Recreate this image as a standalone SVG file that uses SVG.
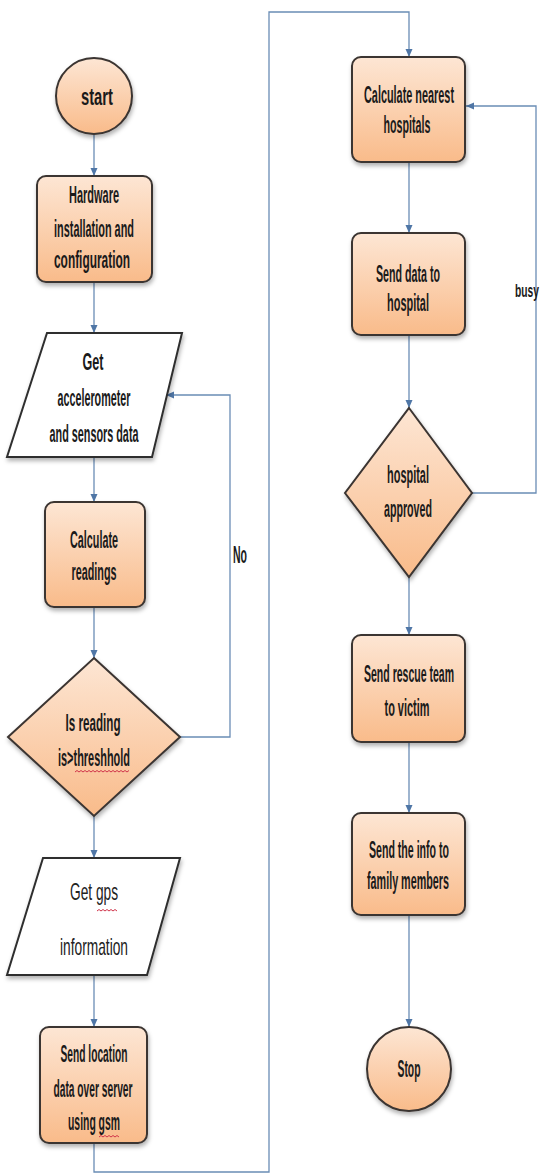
<svg xmlns="http://www.w3.org/2000/svg" width="544" height="1175" viewBox="0 0 544 1175">
<style>
.n{fill:url(#peach);stroke:#3b3431;stroke-width:2;filter:url(#sh)}
.io{fill:#ffffff;stroke:#2f2f2f;stroke-width:2;filter:url(#sh)}
.t{font-family:"Liberation Sans Narrow","Liberation Sans",Arial,sans-serif;font-weight:bold;font-size:24px;fill:#1a1a1a;text-anchor:middle}
.r{font-family:"Liberation Sans Narrow","Liberation Sans",Arial,sans-serif;font-weight:normal;font-size:24px;fill:#222;text-anchor:middle}
.c{fill:none;stroke:#6a8db5;stroke-width:1.3}
.sq{fill:none;stroke:#d0334a;stroke-width:1}
</style>
<defs>
<linearGradient id="peach" x1="0" y1="0" x2="0" y2="1">
<stop offset="0" stop-color="#fde6d4"/>
<stop offset="1" stop-color="#f9bb8a"/>
</linearGradient>
<filter id="sh" x="-20%" y="-20%" width="140%" height="140%">
<feDropShadow dx="1" dy="3" stdDeviation="2" flood-color="#000" flood-opacity="0.3"/>
</filter>
<marker id="ar" viewBox="0 0 8 10" refX="8" refY="5" markerWidth="8" markerHeight="10" markerUnits="userSpaceOnUse" orient="auto">
<path d="M0,1.5 L8,5 L0,8.5 Z" fill="#4f76a6"/>
</marker>
</defs>
<rect width="544" height="1175" fill="#ffffff"/>
<g id="connectors">
<line class="c" x1="94" y1="135" x2="94" y2="176" marker-end="url(#ar)"/>
<line class="c" x1="94" y1="282" x2="94" y2="333" marker-end="url(#ar)"/>
<line class="c" x1="94" y1="457" x2="94" y2="502" marker-end="url(#ar)"/>
<line class="c" x1="94" y1="607" x2="94" y2="658" marker-end="url(#ar)"/>
<polyline class="c" points="180,737 230,737 230,395 166,395" marker-end="url(#ar)"/>
<line class="c" x1="94" y1="816" x2="94" y2="858" marker-end="url(#ar)"/>
<line class="c" x1="94" y1="975" x2="94" y2="1027" marker-end="url(#ar)"/>
<polyline class="c" points="94,1143 94,1172 269,1172 269,12 409,12 409,57" marker-end="url(#ar)"/>
<line class="c" x1="409" y1="162" x2="409" y2="233" marker-end="url(#ar)"/>
<line class="c" x1="409" y1="335" x2="409" y2="408" marker-end="url(#ar)"/>
<polyline class="c" points="472,493 536,493 536,106 466,106" marker-end="url(#ar)"/>
<line class="c" x1="409" y1="577" x2="409" y2="635" marker-end="url(#ar)"/>
<line class="c" x1="409" y1="742" x2="409" y2="813" marker-end="url(#ar)"/>
<line class="c" x1="409" y1="915" x2="409" y2="1027" marker-end="url(#ar)"/>
<text class="t" x="240" y="563" textLength="14" lengthAdjust="spacingAndGlyphs">No</text>
<text x="515" y="297" style="font-family:'Liberation Sans Narrow','Liberation Sans',Arial,sans-serif;font-weight:bold;font-size:18px;fill:#1a1a1a" textLength="24" lengthAdjust="spacingAndGlyphs">busy</text>
</g>
<g id="start">
<circle class="n" cx="94" cy="96" r="38"/>
<text class="t" x="97" y="105" textLength="32" lengthAdjust="spacingAndGlyphs">start</text>
</g>
<g id="hardware">
<rect class="n" x="37" y="176" width="115" height="106" rx="9"/>
<text class="t" x="94" y="203" textLength="50" lengthAdjust="spacingAndGlyphs">Hardware</text>
<text class="t" x="94" y="237" textLength="80" lengthAdjust="spacingAndGlyphs">installation and</text>
<text class="t" x="92" y="268" textLength="76" lengthAdjust="spacingAndGlyphs">configuration</text>
</g>
<g id="get-sensors">
<polygon class="io" points="47,333 182,333 152,457 7,457"/>
<text class="t" x="93" y="370" textLength="21" lengthAdjust="spacingAndGlyphs">Get</text>
<text class="t" x="94" y="406" textLength="73" lengthAdjust="spacingAndGlyphs">accelerometer</text>
<text class="t" x="94" y="442" textLength="89" lengthAdjust="spacingAndGlyphs">and sensors data</text>
</g>
<g id="calc-readings">
<rect class="n" x="45" y="502" width="100" height="105" rx="9"/>
<text class="t" x="94" y="548" textLength="48" lengthAdjust="spacingAndGlyphs">Calculate</text>
<text class="t" x="94" y="580" textLength="45" lengthAdjust="spacingAndGlyphs">readings</text>
</g>
<g id="threshold">
<polygon class="n" points="94,658 180,737 94,816 8,737"/>
<text class="t" x="93" y="731" textLength="55" lengthAdjust="spacingAndGlyphs">Is reading</text>
<text class="t" x="94" y="766" textLength="72" lengthAdjust="spacingAndGlyphs">is&gt;threshhold</text>
<path class="sq" d="M75,772 l2,-1.5 l2,1.5 l2,-1.5 l2,1.5 l2,-1.5 l2,1.5 l2,-1.5 l2,1.5 l2,-1.5 l2,1.5 l2,-1.5 l2,1.5 l2,-1.5 l2,1.5 l2,-1.5 l2,1.5 l2,-1.5 l2,1.5 l2,-1.5 l2,1.5 l2,-1.5 l2,1.5 l2,-1.5 l2,1.5 l2,-1.5 l2,1.5 l2,-1.5"/>
</g>
<g id="get-gps">
<polygon class="io" points="43,858 180,858 147,975 7,975"/>
<text class="r" x="94" y="900" textLength="48" lengthAdjust="spacingAndGlyphs">Get gps</text>
<path class="sq" d="M97,911 l2,-1.5 l2,1.5 l2,-1.5 l2,1.5 l2,-1.5 l2,1.5 l2,-1.5 l2,1.5 l2,-1.5 l2,1.5"/>
<text class="r" x="94" y="955" textLength="68" lengthAdjust="spacingAndGlyphs">information</text>
</g>
<g id="send-location">
<rect class="n" x="40" y="1027" width="107" height="116" rx="9"/>
<text class="t" x="94" y="1062" textLength="67" lengthAdjust="spacingAndGlyphs">Send location</text>
<text class="t" x="93" y="1097" textLength="79" lengthAdjust="spacingAndGlyphs">data over server</text>
<text class="t" x="94" y="1130" textLength="52" lengthAdjust="spacingAndGlyphs">using gsm</text>
<path class="sq" d="M99,1137 l2,-1.5 l2,1.5 l2,-1.5 l2,1.5 l2,-1.5 l2,1.5 l2,-1.5 l2,1.5 l2,-1.5 l2,1.5"/>
</g>
<g id="calc-nearest">
<rect class="n" x="352" y="57" width="113" height="105" rx="9"/>
<text class="t" x="409" y="103" textLength="90" lengthAdjust="spacingAndGlyphs">Calculate nearest</text>
<text class="t" x="407" y="133" textLength="47" lengthAdjust="spacingAndGlyphs">hospitals</text>
</g>
<g id="send-data">
<rect class="n" x="352" y="233" width="113" height="102" rx="9"/>
<text class="t" x="408" y="282" textLength="64" lengthAdjust="spacingAndGlyphs">Send data to</text>
<text class="t" x="408" y="311" textLength="42" lengthAdjust="spacingAndGlyphs">hospital</text>
</g>
<g id="hospital-approved">
<polygon class="n" points="409,408 472,493 409,577 345,493"/>
<text class="t" x="408" y="483" textLength="42" lengthAdjust="spacingAndGlyphs">hospital</text>
<text class="t" x="408" y="517" textLength="48" lengthAdjust="spacingAndGlyphs">approved</text>
</g>
<g id="rescue">
<rect class="n" x="352" y="635" width="113" height="107" rx="9"/>
<text class="t" x="409" y="682" textLength="90" lengthAdjust="spacingAndGlyphs">Send rescue team</text>
<text class="t" x="407" y="716" textLength="45" lengthAdjust="spacingAndGlyphs">to victim</text>
</g>
<g id="family">
<rect class="n" x="352" y="813" width="113" height="102" rx="9"/>
<text class="t" x="409" y="858" textLength="80" lengthAdjust="spacingAndGlyphs">Send the info to</text>
<text class="t" x="408" y="889" textLength="82" lengthAdjust="spacingAndGlyphs">family members</text>
</g>
<g id="stop">
<circle class="n" cx="409" cy="1069" r="42"/>
<text class="t" x="409" y="1077" textLength="23" lengthAdjust="spacingAndGlyphs">Stop</text>
</g>
</svg>
